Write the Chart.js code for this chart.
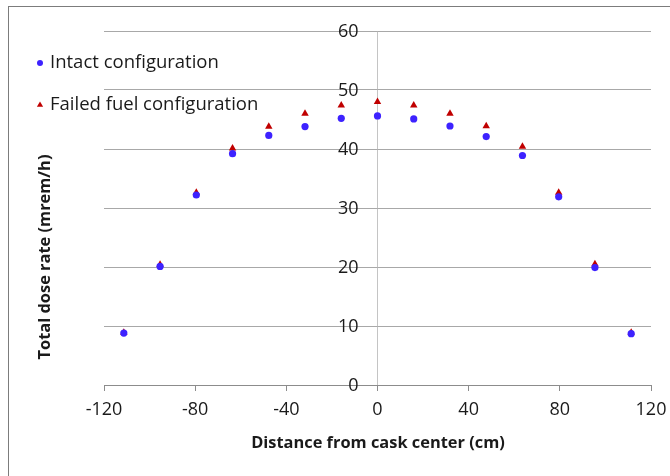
<!DOCTYPE html>
<html>
<head>
<meta charset="utf-8">
<script src="https://cdn.jsdelivr.net/npm/chart.js@4"></script>
<style>
  html, body { margin: 0; padding: 0; background: #fff; }
  #wrap { position: relative; width: 670px; height: 476px; }
  #frame { position: absolute; left: 8px; top: 6px; width: 680px; height: 500px;
           border: 1px solid #7c7c7c; pointer-events: none; }
</style>
</head>
<body>
<div id="wrap">
  <canvas id="doseChart" width="670" height="476"></canvas>
  <div id="frame"></div>
</div>
<script>
// ── data ─────────────────────────────────────────────────────
const distances  = [-111.3, -95.4, -79.5, -63.6, -47.7, -31.8, -15.9, 0, 15.9, 31.8, 47.7, 63.6, 79.5, 95.4, 111.3];
const intactDose = [8.8, 20.1, 32.2, 39.2, 42.3, 43.8, 45.2, 45.6, 45.1, 43.9, 42.1, 38.9, 31.9, 19.9, 8.7];
const failedDose = [8.9, 20.4, 32.6, 40.1, 43.8, 46.0, 47.4, 48.0, 47.4, 46.0, 43.9, 40.4, 32.6, 20.5, 8.9];
const seriesNames = ['Intact configuration', 'Failed fuel configuration'];
const xTitle = 'Distance from cask center (cm)';
const yTitle = 'Total dose rate (mrem/h)';

const FONT = '"Open Sans", "Noto Sans", sans-serif';
const TEXT = '#1a1a1a';

const toPoints = ys => distances.map((x, i) => ({ x, y: ys[i] }));

// y labels sit beside the x = 0 axis; legend + titles where the original has them
const decorations = {
  id: 'decorations',
  afterDraw(chart) {
    const ctx = chart.ctx;
    const sx = chart.scales.x, sy = chart.scales.y;
    ctx.save();
    ctx.fillStyle = TEXT;

    // y tick labels, right aligned left of the x = 0 axis
    ctx.font = '18px ' + FONT;
    ctx.textAlign = 'right';
    ctx.textBaseline = 'middle';
    const axisX = sx.getPixelForValue(0);
    sy.ticks.forEach(t => ctx.fillText(String(t.value), axisX - 19, sy.getPixelForValue(t.value) + 1));

    // legend
    const rows = [63, 105];
    chart.data.datasets.forEach((ds, i) => {
      ctx.fillStyle = ds.backgroundColor;
      Chart.helpers.drawPoint(ctx, { pointStyle: ds.pointStyle, radius: i ? 3.6 : 3, rotation: 0, borderWidth: 0 }, 40, rows[i]);
      ctx.fillStyle = TEXT;
      ctx.font = '18.5px ' + FONT;
      ctx.textAlign = 'left';
      ctx.fillText(ds.label, 50, rows[i]);
    });

    // axis titles
    ctx.font = 'bold 16.4px ' + FONT;
    ctx.textAlign = 'center';
    ctx.fillText(xTitle, 378, 443);
    ctx.translate(45, 257);
    ctx.rotate(-Math.PI / 2);
    ctx.fillText(yTitle, 0, 0);
    ctx.restore();
  }
};

new Chart(document.getElementById('doseChart'), {
  type: 'scatter',
  data: {
    datasets: [
      { label: seriesNames[0], data: toPoints(intactDose), pointStyle: 'circle',
        backgroundColor: '#3d22ff', borderColor: '#3d22ff', borderWidth: 0, pointRadius: 3.6 },
      { label: seriesNames[1], data: toPoints(failedDose), pointStyle: 'triangle',
        backgroundColor: '#c00000', borderColor: '#c00000', borderWidth: 0, pointRadius: 4.3 },
    ]
  },
  options: {
    responsive: false,
    animation: false,
    devicePixelRatio: 1,
    layout: { padding: { left: 104, right: 19, top: 31, bottom: 0 } },
    plugins: { legend: { display: false }, tooltip: { enabled: false } },
    scales: {
      x: {
        type: 'linear', min: -120, max: 120,
        afterFit(scale) { scale.height = 91; scale.paddingLeft = 0; scale.paddingRight = 0; },
        ticks: { stepSize: 40, color: TEXT, padding: 8, font: { family: FONT, size: 18 } },
        // only the x = 0 line is drawn across the plot (the vertical axis)
        grid: {
          drawOnChartArea: true, drawTicks: true, tickLength: 6,
          color: c => (c.tick && c.tick.value === 0 ? '#c4c4c4' : 'rgba(0,0,0,0)'),
          tickColor: '#8c8c8c'
        },
        border: { display: true, color: '#8c8c8c' }
      },
      y: {
        position: 'left',
        min: 0, max: 60,
        afterFit(scale) { scale.width = 0; },
        ticks: { stepSize: 10, display: false },
        grid: { color: '#a8a8a8', drawTicks: false },
        border: { display: false }
      }
    }
  },
  plugins: [decorations]
});
</script>
</body>
</html>
